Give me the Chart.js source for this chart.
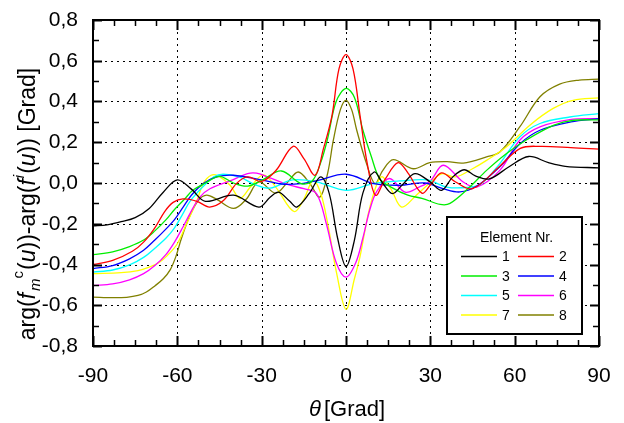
<!DOCTYPE html>
<html>
<head>
<meta charset="utf-8">
<script src="https://cdn.jsdelivr.net/npm/chart.js@4.4.1/dist/chart.umd.min.js"></script>
<style>
  html, body { margin: 0; padding: 0; background: #fff; }
  #wrap { width: 624px; height: 423px; }
</style>
</head>
<body>
<div id="wrap"><canvas id="phaseChart"></canvas></div>
<script>
/* Phase difference per element vs. angle */

const legendTitle = 'Element Nr.';
const labels = ['1', '2', '3', '4', '5', '6', '7', '8'];
const colors = ['#000000', '#ff0000', '#00ee00', '#0000ff', '#00ffff', '#ff00ff', '#ffff00', '#808000'];

const xTicks = [-90, -60, -30, 0, 30, 60, 90];

// element 1 (black)
const ang1 = [-90, -85, -80, -75, -70, -65, -60, -55, -50, -40, -31, -27, -24, -20, -17.5, -13, -9, -6, -3, 0, 3, 6, 10, 13, 16.5, 20, 24.5, 30, 34, 38, 42, 46, 51, 58, 65, 72, 78, 90];
const arg1 = [-0.21, -0.205, -0.19, -0.17, -0.125, -0.045, 0.015, -0.03, -0.09, -0.06, -0.118, -0.07, -0.045, -0.09, -0.118, -0.05, 0.03, -0.05, -0.27, -0.41, -0.28, -0.05, 0.054, 0.0, -0.052, -0.01, 0.046, 0.005, -0.036, 0.03, 0.065, 0.035, 0.02, 0.08, 0.13, 0.1, 0.082, 0.074];

// element 2 (red)
const ang2 = [-90, -83, -76, -72, -68, -64.5, -61.5, -58, -53, -48.5, -43.5, -39, -35, -30, -25, -18.8, -15, -11, -8, -5, -2.5, 0, 2.5, 5, 7.5, 10.5, 14, 18.5, 22, 27, 30, 34, 39, 45, 54.5, 62, 69, 80, 90];
const arg2 = [-0.40, -0.38, -0.335, -0.29, -0.22, -0.14, -0.095, -0.078, -0.09, -0.118, -0.085, -0.003, 0.03, 0.008, 0.06, 0.18, 0.12, 0.038, 0.17, 0.33, 0.56, 0.63, 0.56, 0.33, 0.1, -0.06, 0.02, 0.1, 0.05, -0.05, -0.01, 0.05, 0.005, -0.028, 0.08, 0.17, 0.18, 0.174, 0.166];

// element 3 (green)
const ang3 = [-90, -83, -77, -72, -68, -64, -61, -57.5, -54.5, -50, -45, -40, -35, -30, -23, -16, -12, -9, -6.5, -3.5, 0, 3, 6, 9, 12, 16, 22, 27, 33.5, 37, 44, 50, 57, 64, 74, 81, 90];
const arg3 = [-0.352, -0.338, -0.312, -0.28, -0.235, -0.18, -0.13, -0.08, -0.036, 0.0, 0.033, 0.0, -0.015, 0.013, 0.059, -0.003, 0.01, 0.1, 0.22, 0.4, 0.464, 0.42, 0.26, 0.13, 0.02, -0.02, -0.06, -0.075, -0.105, -0.1, -0.02, 0.062, 0.144, 0.21, 0.284, 0.308, 0.31];

// element 4 (blue)
const ang4 = [-90, -83, -77, -72, -68, -64, -61, -58, -55, -50.8, -46, -40, -30, -23, -16, -10, 0, 10, 19, 28, 34.5, 40.5, 46.5, 54.7, 62, 69, 80, 90];
const arg4 = [-0.42, -0.405, -0.372, -0.33, -0.28, -0.225, -0.18, -0.12, -0.06, -0.003, 0.03, 0.038, 0.015, -0.005, -0.003, 0.013, 0.043, -0.003, -0.011, 0.0, -0.028, -0.044, -0.015, 0.079, 0.194, 0.259, 0.3, 0.316];

// element 5 (cyan)
const ang5 = [-90, -83, -77, -72, -68, -64, -61, -58, -55.5, -51, -47, -43.7, -38, -32, -27, -19, -10.5, 0, 9.7, 19, 29, 35.8, 42.9, 48, 54.7, 61.8, 69, 79.6, 90];
const arg5 = [-0.437, -0.427, -0.402, -0.365, -0.32, -0.27, -0.22, -0.15, -0.09, -0.02, 0.03, 0.043, 0.03, -0.01, -0.025, 0.015, 0.005, -0.036, -0.003, 0.01, 0.015, -0.02, -0.022, -0.005, 0.095, 0.226, 0.292, 0.324, 0.341];

// element 6 (magenta)
const ang6 = [-90, -83, -77, -72, -68, -64, -61, -58, -55.5, -52, -48.4, -41.3, -35, -31.8, -27, -20, -15, -10.5, -7, -3.5, 0, 3.5, 6, 8.5, 11, 15.5, 21, 26, 30, 34.6, 41.7, 46.5, 54.7, 61.8, 69, 79.6, 90];
const arg6 = [-0.503, -0.495, -0.475, -0.445, -0.405, -0.35, -0.29, -0.216, -0.15, -0.069, -0.028, 0.01, 0.046, 0.048, 0.025, -0.011, -0.028, -0.052, -0.2, -0.39, -0.462, -0.39, -0.27, -0.13, -0.04, 0.022, -0.045, -0.02, 0.01, 0.087, 0.005, -0.02, 0.062, 0.21, 0.275, 0.311, 0.316];

// element 7 (yellow)
const ang7 = [-90, -80, -74, -70, -66.5, -63.5, -60, -56.7, -53, -50.8, -48, -45.5, -41.3, -37.7, -34, -29.4, -25, -18.5, -15, -11.7, -9, -6.5, -3.3, 0, 3, 5, 8.5, 12.5, 16, 19.8, 25, 29.8, 34, 39, 45, 50, 57, 65.4, 73.7, 80.8, 90];
const arg7 = [-0.445, -0.44, -0.43, -0.413, -0.39, -0.355, -0.298, -0.2, -0.085, -0.003, 0.038, 0.035, -0.01, -0.075, -0.02, 0.04, -0.02, -0.14, -0.08, 0.013, -0.05, -0.2, -0.445, -0.62, -0.47, -0.36, -0.118, 0.03, -0.03, -0.118, -0.06, 0.0, 0.045, 0.03, 0.07, 0.111, 0.177, 0.284, 0.366, 0.406, 0.418];

// element 8 (olive)
const ang8 = [-90, -83, -78, -74, -71, -68, -65, -62.5, -60.5, -58.5, -55.5, -52.5, -49.6, -46, -40, -35.5, -31, -25, -21, -17, -13, -9.3, -6.5, -4.5, -2, 0, 2, 3.8, 7.3, 10.3, 13, 16.8, 23.9, 29.8, 36, 41.7, 50, 54.7, 61.8, 69, 76, 83, 90];
const arg8 = [-0.56, -0.563, -0.561, -0.552, -0.535, -0.505, -0.47, -0.425, -0.36, -0.27, -0.16, -0.085, -0.06, -0.08, -0.125, -0.08, 0.005, -0.05, 0.0, 0.054, 0.0, -0.069, 0.05, 0.21, 0.36, 0.406, 0.36, 0.26, 0.095, -0.003, 0.06, 0.115, 0.07, 0.1, 0.105, 0.098, 0.128, 0.152, 0.275, 0.423, 0.485, 0.505, 0.51];

const angles = [ang1, ang2, ang3, ang4, ang5, ang6, ang7, ang8];
const phases = [arg1, arg2, arg3, arg4, arg5, arg6, arg7, arg8];

const FONT = '"Liberation Sans", Arial, sans-serif';
Chart.defaults.font.family = FONT;
Chart.defaults.color = '#000';

const fmt = v => (Math.abs(v) < 1e-9 ? 0 : v).toFixed(1).replace('.', ',');

/** Draw a line of mixed italic / sub / superscript text centred on (0,0) */
function drawRich(ctx, parts, size) {
  const fontOf = p => `${p.i ? 'italic ' : ''}${Math.round(size * (p.s || 1))}px ${FONT}`;
  let total = 0;
  parts.forEach(p => { ctx.font = fontOf(p); p.w = ctx.measureText(p.t).width + (p.gap || 0); total += p.w; });
  let x = -total / 2;
  parts.forEach(p => {
    ctx.font = fontOf(p);
    ctx.fillText(p.t, x, (p.dy || 0) * size);
    x += p.w;
  });
}

const decorations = {
  id: 'decorations',
  beforeDatasetsDraw(chart) {
    const { ctx, chartArea: a, scales: { x, y } } = chart;
    ctx.save();
    ctx.strokeStyle = '#000';
    ctx.lineWidth = 1;
    ctx.setLineDash([2, 4]);
    ctx.beginPath();
    xTicks.slice(1, -1).forEach(v => {
      const px = Math.round(x.getPixelForValue(v)) + 0.5;
      ctx.moveTo(px, a.top); ctx.lineTo(px, a.bottom);
    });
    for (let i = 1; i < 8; i++) {
      const py = Math.round(y.getPixelForValue(-0.8 + 0.2 * i)) + 0.5;
      ctx.moveTo(a.left, py); ctx.lineTo(a.right, py);
    }
    ctx.stroke();
    ctx.restore();
  },
  afterDatasetsDraw(chart) {
    const { ctx, chartArea: a, scales: { x, y } } = chart;
    ctx.save();
    ctx.strokeStyle = '#000';
    ctx.fillStyle = '#000';

    // inward ticks on all four sides
    for (let i = 0; i <= 24; i++) {
      const major = i % 4 === 0;
      const px = Math.round(x.getPixelForValue(-90 + 7.5 * i)) + 0.5;
      const len = major ? 10 : 6;
      ctx.lineWidth = major ? 2 : 1.5;
      ctx.beginPath();
      ctx.moveTo(px, a.bottom); ctx.lineTo(px, a.bottom - len);
      ctx.moveTo(px, a.top); ctx.lineTo(px, a.top + len);
      ctx.stroke();
    }
    for (let i = 0; i <= 16; i++) {
      const major = i % 2 === 0;
      const py = Math.round(y.getPixelForValue(-0.8 + 0.1 * i)) + 0.5;
      const len = major ? 9 : 6;
      ctx.lineWidth = major ? 2 : 1.5;
      ctx.beginPath();
      ctx.moveTo(a.left, py); ctx.lineTo(a.left + len, py);
      ctx.moveTo(a.right, py); ctx.lineTo(a.right - len, py);
      ctx.stroke();
    }

    // frame
    ctx.lineWidth = 2;
    ctx.strokeRect(a.left, a.top, a.right - a.left, a.bottom - a.top);

    // legend box
    const lx = 447, ly = 217, lw = 135, lh = 117;
    ctx.fillStyle = '#fff';
    ctx.fillRect(lx, ly, lw, lh);
    ctx.lineWidth = 2;
    ctx.strokeRect(lx, ly, lw, lh);
    ctx.fillStyle = '#000';
    ctx.textAlign = 'center';
    ctx.textBaseline = 'middle';
    ctx.font = `14px ${FONT}`;
    ctx.fillText(legendTitle, lx + lw / 2 + 2, ly + 21);
    chart.data.datasets.forEach((ds, i) => {
      const col = i % 2, row = Math.floor(i / 2);
      const x0 = lx + 14 + col * 57;
      const yy = ly + 39.5 + row * 19.5;
      ctx.strokeStyle = ds.borderColor;
      ctx.lineWidth = 1.5;
      ctx.beginPath();
      ctx.moveTo(x0, yy); ctx.lineTo(x0 + 36, yy);
      ctx.stroke();
      ctx.fillText(ds.label, x0 + 45, yy + 1);
    });

    // axis titles
    ctx.textBaseline = 'middle';
    ctx.textAlign = 'left';
    ctx.save();
    ctx.translate(29, 204);
    ctx.rotate(-Math.PI / 2);
    drawRich(ctx, [
      { t: 'arg(' },
      { t: 'f', i: 1, gap: 2 },
      { t: 'm', i: 1, s: 0.65, dy: 0.28 },
      { t: 'c', s: 0.65, dy: -0.42, gap: 1 },
      { t: '(' },
      { t: 'u', i: 1 },
      { t: '))-arg(' },
      { t: 'f', i: 1, gap: 1 },
      { t: 'i', i: 1, s: 0.65, dy: -0.42, gap: 1 },
      { t: '(' },
      { t: 'u', i: 1 },
      { t: ')) [Grad]' }
    ], 23);
    ctx.restore();

    ctx.save();
    ctx.translate(347, 410);
    drawRich(ctx, [{ t: 'θ', i: 1, gap: 3 }, { t: '[Grad]' }], 22);
    ctx.restore();

    ctx.restore();
  }
};

new Chart(document.getElementById('phaseChart'), {
  type: 'line',
  data: {
    datasets: labels.map((lab, i) => ({
      label: lab,
      data: angles[i].map((a, k) => ({ x: a, y: phases[i][k] })),
      borderColor: colors[i],
      borderWidth: 1.3,
      pointRadius: 0,
      tension: 0.35,
      fill: false
    }))
  },
  options: {
    responsive: true,
    maintainAspectRatio: false,
    animation: false,
    events: [],
    layout: { padding: { top: 20, right: 25, left: 0, bottom: 0 } },
    plugins: { legend: { display: false }, tooltip: { enabled: false } },
    scales: {
      x: {
        type: 'linear', min: -90, max: 90,
        afterBuildTicks: s => { s.ticks = xTicks.map(v => ({ value: v })); },
        afterFit: s => { s.height = 77; },
        grid: { display: false },
        border: { display: false },
        ticks: { color: '#000', font: { size: 21 }, padding: 10, maxRotation: 0, autoSkip: false }
      },
      y: {
        min: -0.8, max: 0.8,
        afterFit: s => { s.width = 93; },
        grid: { display: false },
        border: { display: false },
        ticks: { color: '#000', font: { size: 21 }, padding: 7, stepSize: 0.2, callback: fmt }
      }
    }
  },
  plugins: [decorations]
});
</script>
</body>
</html>
